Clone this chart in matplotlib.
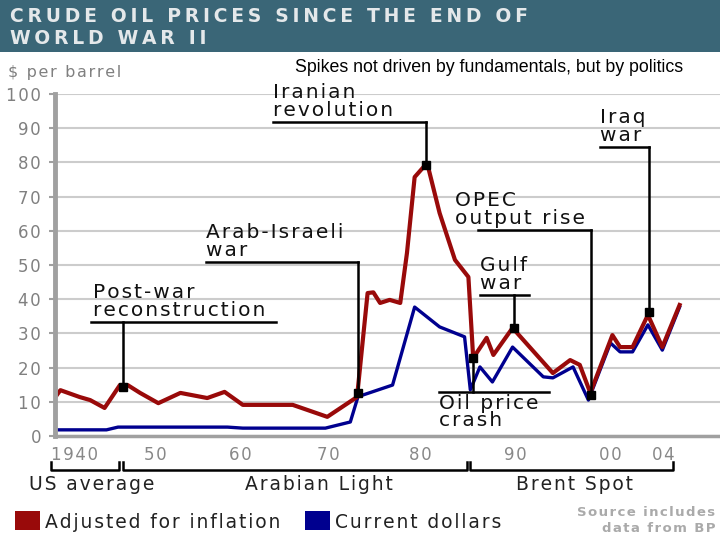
import matplotlib.pyplot as plt
from matplotlib.patches import Rectangle

# oil price in $ per barrel
red_years = [1941.4, 1942.0, 1944.0, 1945.1, 1946.6, 1948.2, 1949.0, 1950.3, 1952.2, 1954.5,
             1957.3, 1959.1, 1961.0, 1966.2, 1969.8, 1972.9, 1974.0, 1974.6, 1975.3, 1976.3,
             1977.4, 1978.1, 1978.9, 1980.0, 1980.3, 1981.5, 1983.1, 1984.5, 1985.0, 1986.4,
             1987.1, 1989.1, 1993.3, 1995.1, 1996.1, 1997.2, 1999.5, 2000.3, 2001.6, 2003.2,
             2004.7, 2006.5]
red_vals = [11.1, 13.4, 11.4, 10.5, 8.2, 14.9, 14.9, 12.6, 9.6, 12.6,
            11.1, 12.9, 9.1, 9.1, 5.6, 11.4, 41.8, 42.0, 38.9, 39.8,
            38.9, 53.5, 75.7, 79.2, 78.7, 65.2, 51.5, 46.5, 22.8, 28.7,
            23.7, 31.6, 18.4, 22.2, 20.8, 12.6, 29.5, 26.0, 26.0, 35.4,
            26.0, 38.3]

blue_years = [1941.4, 1946.8, 1948.0, 1959.4, 1961.0, 1969.6, 1972.2, 1973.0, 1976.6, 1978.9,
              1981.5, 1984.1, 1984.7, 1985.7, 1987.0, 1989.1, 1992.3, 1993.3, 1995.4, 1997.0,
              1999.3, 2000.3, 2001.6, 2003.2, 2004.7, 2006.5]
blue_vals = [1.8, 1.8, 2.6, 2.6, 2.3, 2.3, 4.1, 11.5, 14.9, 37.7,
             31.9, 29.0, 13.5, 20.2, 15.8, 26.0, 17.3, 17.0, 20.2, 10.5,
             27.2, 24.6, 24.6, 32.5, 25.1, 37.7]

# events marked on the chart
event_names = ['Post-war\nreconstruction', 'Arab-Israeli\nwar', 'Iranian\nrevolution',
               'Oil price\ncrash', 'Gulf\nwar', 'OPEC\noutput rise', 'Iraq\nwar']
event_years = [1948.5, 1973.0, 1980.1, 1985.0, 1989.25, 1997.3, 2003.3]
event_vals = [14.3, 12.6, 79.2, 22.8, 31.6, 12.0, 36.2]

tick_labels = ['1940', '50', '60', '70', '80', '90', '00', '04']
tick_pos = [1943.5, 1951.9, 1960.7, 1969.9, 1979.5, 1989.4, 1999.3, 2004.8]

sources = ['US average', 'Arabian Light', 'Brent Spot']
source_spans = [(1941.0, 1948.1), (1948.5, 1984.4), (1984.7, 2005.8)]

W, H = 720, 540
def X(px):
    return 1973 + (px - 358) / 9.6
def Y(py):
    return (436 - py) / 3.42

# the original uses a wide font, so pad letters with small spaces
def sp(s, ch='\u200a'):
    return '\n'.join(ch.join(line) for line in s.split('\n'))

fig = plt.figure(figsize=(7.2, 5.4), dpi=100)
fig.patch.set_facecolor('white')

# title banner
fig.patches.append(Rectangle((0, 1 - 52 / H), 1, 52 / H, transform=fig.transFigure,
                             facecolor='#3a6677', edgecolor='none'))
fig.text(10 / W, 1 - 17 / H, sp('CRUDE OIL PRICES SINCE THE END OF', '\u2009'), color='#e4e8ea',
         fontsize=13.5, fontweight='bold', va='center', ha='left')
fig.text(10 / W, 1 - 39 / H, sp('WORLD WAR II', '\u2009'), color='#e4e8ea',
         fontsize=13.5, fontweight='bold', va='center', ha='left')

fig.text(8 / W, 1 - 72 / H, sp('$ per barrel'), color='#808080', fontsize=11.5, va='center')
fig.text(295 / W, 1 - 68 / H, 'Spikes not driven by fundamentals, but by politics',
         family='Liberation Sans', fontsize=12.8, color='black', va='center')

ax = fig.add_axes([55 / W, 104 / H, 665 / W, 342 / H])
ax.set_xlim(X(55), X(720))
ax.set_ylim(0, 100)
ax.set_yticks(range(0, 101, 10))
ax.set_yticklabels([sp(str(v)) for v in range(0, 101, 10)])
ax.yaxis.grid(True, color='#cccccc', linewidth=1.5)
ax.set_axisbelow(True)
for s in ['top', 'right']:
    ax.spines[s].set_visible(False)
ax.spines['left'].set_color('#a0a0a0')
ax.spines['left'].set_linewidth(3.5)
ax.spines['bottom'].set_color('#a0a0a0')
ax.spines['bottom'].set_linewidth(2.5)
ax.tick_params(axis='y', colors='#a0a0a0', labelcolor='#808080', labelsize=12,
               length=4, width=1.5, pad=6)
ax.set_xticks([])

ax.plot(blue_years, blue_vals, color='#00008f', linewidth=2.4, solid_joinstyle='round')
ax.plot(red_years, red_vals, color='#990a0a', linewidth=3.0, solid_joinstyle='round')

# annotation layout: text left, underline y, underline span
ann = [
    (X(93), Y(322), X(91), X(276)),
    (X(206), Y(262), X(206), X(358)),
    (X(273), Y(122), X(273), X(426)),
    None,
    (X(480), Y(295), X(480), X(529)),
    (X(455), Y(230), X(478), X(591)),
    (X(600), Y(147), X(600), X(649)),
]
for name, ex, ey, a in zip(event_names, event_years, event_vals, ann):
    if a is None:
        # oil price crash: line goes down, text below
        ly = Y(392)
        ax.plot([X(439), X(549)], [ly, ly], color='black', linewidth=1.8, clip_on=False)
        ax.plot([ex, ex], [ly, ey], color='black', linewidth=1.8)
        ax.text(X(439), Y(394), sp(name), fontsize=14.5, va='top', ha='left',
                color='#111111', linespacing=0.9)
    else:
        tx, ly, x0, x1 = a
        ax.plot([x0, x1], [ly, ly], color='black', linewidth=1.8)
        ax.plot([ex, ex], [ly, ey], color='black', linewidth=1.8)
        ax.text(tx, ly + 0.6, sp(name), fontsize=14.5, va='bottom', ha='left',
                color='#111111', linespacing=0.9)
    ax.plot(ex, ey, marker='s', color='black', markersize=5.5)

# x tick labels
for lab, p in zip(tick_labels, tick_pos):
    ax.text(p, Y(455), sp(lab), fontsize=12, color='#888888', ha='center', va='center',
            clip_on=False)

# source brackets
label_x = [X(92), X(319), X(575)]
for name, (a, b), lx in zip(sources, source_spans, label_x):
    yb, yt = Y(470), Y(462)
    ax.plot([a, a, b, b], [yt, yb, yb, yt], color='black', linewidth=1.8, clip_on=False)
    ax.text(lx, Y(484), sp(name), fontsize=13.5,
            color='#222222', ha='center', va='center', clip_on=False)

# legend
fig.patches.append(Rectangle((15 / W, 1 - 530 / H), 25 / W, 19 / H, transform=fig.transFigure,
                             facecolor='#990a0a', edgecolor='none'))
fig.text(45 / W, 1 - 523 / H, sp('Adjusted for inflation'), fontsize=13.5, color='#222222',
         va='center')
fig.patches.append(Rectangle((305 / W, 1 - 530 / H), 25 / W, 19 / H, transform=fig.transFigure,
                             facecolor='#00008f', edgecolor='none'))
fig.text(335 / W, 1 - 523 / H, sp('Current dollars'), fontsize=13.5, color='#222222',
         va='center')

fig.text(715 / W, 1 - 513 / H, sp('Source includes'), fontsize=9.5, color='#aaaaaa',
         fontweight='bold', ha='right', va='center')
fig.text(715 / W, 1 - 529 / H, sp('data from BP'), fontsize=9.5, color='#aaaaaa',
         fontweight='bold', ha='right', va='center')

fig.savefig('out.png', dpi=100)
